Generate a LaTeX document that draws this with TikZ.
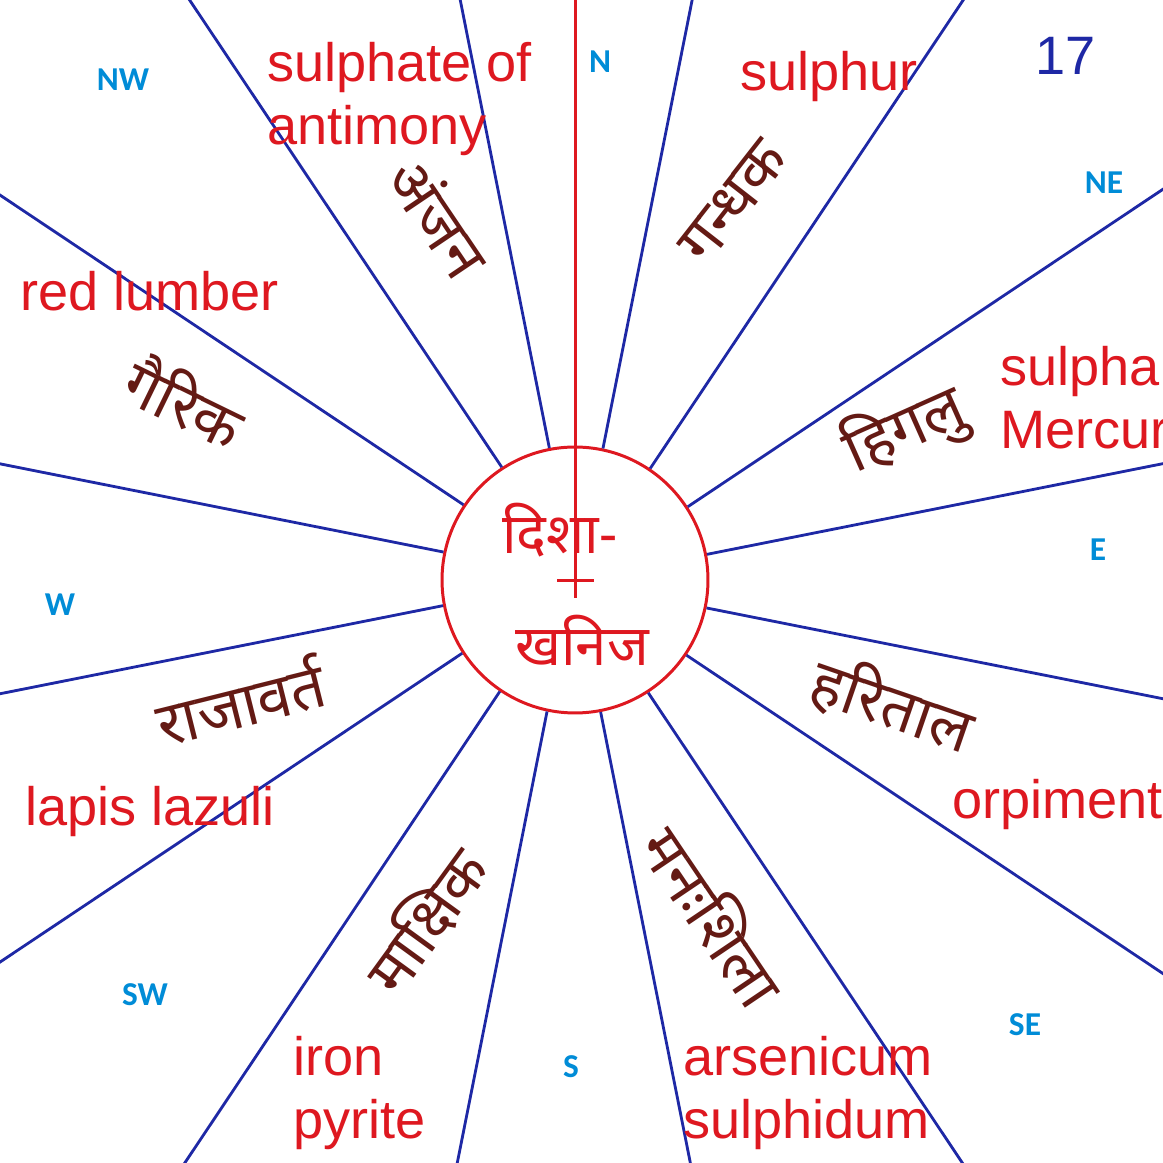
\documentclass[tikz,border=0pt]{standalone}
\usepackage{fontspec}
\setmainfont{Liberation Sans}
\newfontfamily\hindifont[Script=Devanagari]{Noto Sans}
\newfontfamily\dirfont{Carlito}
\usepackage{xcolor}
\usepackage{tikz}
\usetikzlibrary{positioning}

\definecolor{rayblue}{RGB}{30,40,165}
\definecolor{inkred}{RGB}{222,24,32}
\definecolor{maroon}{RGB}{100,26,20}
\definecolor{skyblue}{RGB}{0,140,215}

\begin{document}
\begin{tikzpicture}[
    x=0.02cm, y=0.02cm,
    ray/.style={draw=rayblue, line width=1.6pt},
    axis/.style={draw=inkred, line width=1.7pt},
    eng/.style={anchor=north west, inner sep=0pt, align=left, text=inkred,
        font=\fontsize{30.8}{35.8}\selectfont},
    hin/.style={inner sep=0pt, text=maroon,
        font=\hindifont\fontsize{35}{41}\selectfont},
    mid/.style={inner sep=0pt, text=inkred,
        font=\hindifont\fontsize{32}{38}\selectfont},
    dirlabel/.style={inner sep=0pt, text=skyblue,
        font=\dirfont\bfseries\fontsize{19}{22}\selectfont}
]
\useasboundingbox (0,0) rectangle (1163,1163);
\fill[white] (0,0) rectangle (1163,1163);
\clip (0,0) rectangle (1163,1163);

% hub and rays
\node[circle, draw=inkred, line width=1.7pt, minimum size=5.32cm, inner sep=0pt] (hub) at (575,583) {};
\foreach \a in {11.25,33.75,...,348.75}
    \draw[ray] (hub.\a) -- ++(\a:1500);

% north axis with cross
\coordinate (ntop) at (575,1163);
\coordinate (foot) at (575,565);
\coordinate (barL) at (557,582);
\coordinate (barR) at (594,582);
\draw[axis] (ntop) -- (foot);
\draw[axis] (barL) -- (barR);

\node[mid] (disha) at (560,633) {दिशा-};
\node[mid] (khanij) at (582,523) {खनिज};

% english names
\node[eng] (antimony) at (267,1121) {sulphate of\\antimony};
\node[eng] (sulphur) at (740,1112) {sulphur};
\node[eng] (lumber) at (20,892) {red lumber};
\node[eng] (mercury) at (1000,817) {sulpha\\Mercur};
\node[eng] (orpiment) at (952,384) {orpiment};
\node[eng] (lazuli) at (25,377) {lapis lazuli};
\node[eng] (pyrite) at (293,127) {iron\\pyrite};
\node[eng] (arsenic) at (683,127) {arsenicum\\sulphidum};
\node[eng, text=rayblue] (page) at (1035,1126) {17};

% hindi names
\node[hin, rotate=-56] (anjan) at (440,946) {अंजन};
\node[hin, rotate=52] (gandhak) at (733,961) {गन्धक};
\node[hin, rotate=-26] (gairik) at (186,762) {गैरिक};
\node[hin, rotate=24] (hingul) at (905,733) {हिगलु};
\node[hin, rotate=14] (rajavart) at (240,463) {राजावर्त};
\node[hin, rotate=-19] (haratal) at (893,458) {हरिताल};
\node[hin, rotate=54] (makshik) at (425,243) {माक्षिक};
\node[hin, rotate=-56] (manahshila) at (715,248) {मनःशिला};

% compass points
\node[dirlabel] (dN) at (600,1101) {N};
\node[dirlabel] (dNE) at (1104,980) {NE};
\node[dirlabel] (dE) at (1098,613) {E};
\node[dirlabel] (dSE) at (1025,138) {SE};
\node[dirlabel] (dS) at (571,96) {S};
\node[dirlabel] (dSW) at (145,168) {SW};
\node[dirlabel] (dW) at (60,558) {W};
\node[dirlabel] (dNW) at (123,1083) {NW};
\end{tikzpicture}
\end{document}
